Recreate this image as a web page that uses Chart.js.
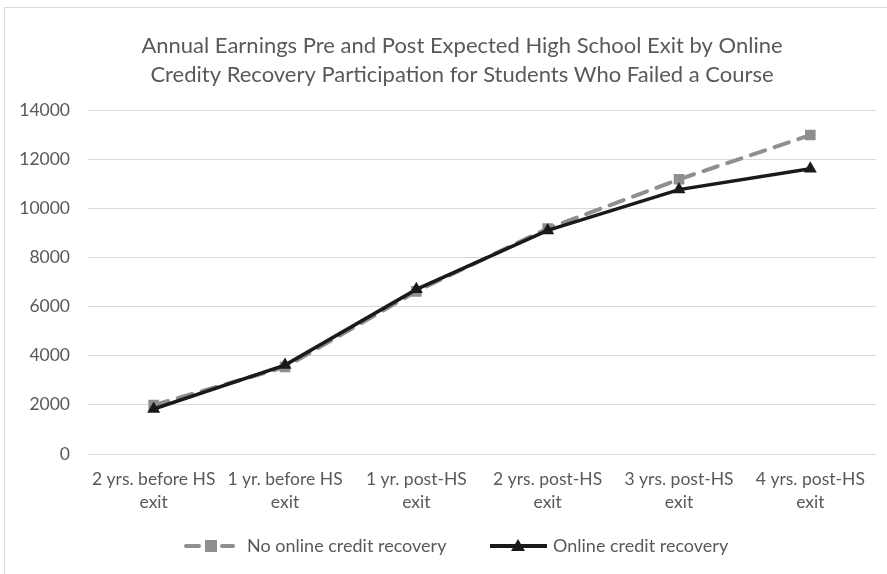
<!DOCTYPE html>
<html>
<head>
<meta charset="utf-8">
<script src="https://cdn.jsdelivr.net/npm/chart.js@4"></script>
<style>
  html, body { margin: 0; padding: 0; background: #fff; }
  #wrap { position: relative; width: 887px; height: 574px; }
  #frame { position: absolute; left: 4px; top: 7px; width: 900px; height: 600px; border: 1px solid #d9d9d9; box-sizing: border-box; }
</style>
</head>
<body>
<div id="wrap">
  <div id="frame"></div>
  <canvas id="c" width="887" height="574"></canvas>
</div>
<script>
  var categories = [
    ['2 yrs. before HS', 'exit'],
    ['1 yr. before HS', 'exit'],
    ['1 yr. post-HS', 'exit'],
    ['2 yrs. post-HS', 'exit'],
    ['3 yrs. post-HS', 'exit'],
    ['4 yrs. post-HS', 'exit']
  ];
  var noOnline = [1990, 3540, 6620, 9180, 11180, 12980];
  var online = [1830, 3620, 6700, 9100, 10760, 11610];
  var yTicks = [0, 2000, 4000, 6000, 8000, 10000, 12000, 14000];
  var titleLines = [
    'Annual Earnings Pre and Post Expected High School Exit by Online',
    'Credity Recovery Participation for Students Who Failed a Course'
  ];
  var seriesNames = ['No online credit recovery', 'Online credit recovery'];

  var FONT = 'Lato, "Open Sans", sans-serif';
  var TXT = '#595959';
  var GRAY = '#8f8f8f';
  var BLACK = '#1a1a1a';

  // title + legend drawn by hand, Excel style
  var decor = {
    id: 'decor',
    afterDraw: function (chart) {
      var ctx = chart.ctx;
      ctx.save();
      ctx.fillStyle = TXT;
      ctx.textAlign = 'center';
      ctx.textBaseline = 'middle';
      ctx.font = '22px ' + FONT;
      ctx.fillText(titleLines[0], 462, 46);
      ctx.fillText(titleLines[1], 462, 75);

      // legend: dash - square - dash, then solid line with triangle
      var ly = 546;
      ctx.lineCap = 'round';
      ctx.strokeStyle = GRAY;
      ctx.lineWidth = 4;
      ctx.beginPath(); ctx.moveTo(186, ly); ctx.lineTo(199, ly); ctx.stroke();
      ctx.beginPath(); ctx.moveTo(222, ly); ctx.lineTo(233, ly); ctx.stroke();
      ctx.fillStyle = GRAY;
      ctx.fillRect(205, ly - 6, 12, 12);

      ctx.strokeStyle = BLACK;
      ctx.lineWidth = 4;
      ctx.lineCap = 'butt';
      ctx.beginPath(); ctx.moveTo(490, ly); ctx.lineTo(547, ly); ctx.stroke();
      ctx.fillStyle = BLACK;
      ctx.beginPath();
      ctx.moveTo(518, ly - 7); ctx.lineTo(525, ly + 5); ctx.lineTo(511, ly + 5); ctx.closePath();
      ctx.fill();

      ctx.fillStyle = TXT;
      ctx.textAlign = 'left';
      ctx.font = '18px ' + FONT;
      ctx.fillText(seriesNames[0], 247, ly);
      ctx.fillText(seriesNames[1], 553, ly);
      ctx.restore();
    }
  };

  new Chart(document.getElementById('c'), {
    type: 'line',
    data: {
      labels: categories,
      datasets: [
        {
          label: seriesNames[1],
          data: online,
          borderColor: BLACK,
          backgroundColor: BLACK,
          borderWidth: 3.5,
          pointStyle: 'triangle',
          pointRadius: 7.5,
          pointBorderWidth: 0,
          tension: 0,
          order: 1
        },
        {
          label: seriesNames[0],
          data: noOnline,
          borderColor: GRAY,
          backgroundColor: GRAY,
          borderWidth: 4,
          borderDash: [15, 10],
          borderCapStyle: 'round',
          pointStyle: 'rect',
          pointRadius: 7.5,
          pointBorderWidth: 0,
          tension: 0,
          order: 2
        }
      ]
    },
    options: {
      responsive: false,
      animation: false,
      layout: { padding: { top: 110, right: 11, bottom: 0, left: 0 } },
      plugins: {
        legend: { display: false },
        title: { display: false },
        tooltip: { enabled: false }
      },
      scales: {
        x: {
          offset: true,
          grid: { display: false, drawTicks: false, offset: true },
          border: { display: false },
          ticks: { color: TXT, font: { family: FONT, size: 17.5, lineHeight: 1.3 }, padding: 14, maxRotation: 0, autoSkip: false },
          afterFit: function (s) { s.height = 120; }
        },
        y: {
          min: 0,
          max: 14000,
          afterBuildTicks: function (s) { s.ticks = yTicks.map(function (v) { return { value: v }; }); },
          grid: { color: '#d9d9d9', lineWidth: 1, drawTicks: false },
          border: { display: false },
          ticks: { color: TXT, font: { family: FONT, size: 17.5 }, padding: 18, callback: function (v) { return String(v); } },
          afterFit: function (s) { s.width = 88; }
        }
      }
    },
    plugins: [decor]
  });
</script>
</body>
</html>
